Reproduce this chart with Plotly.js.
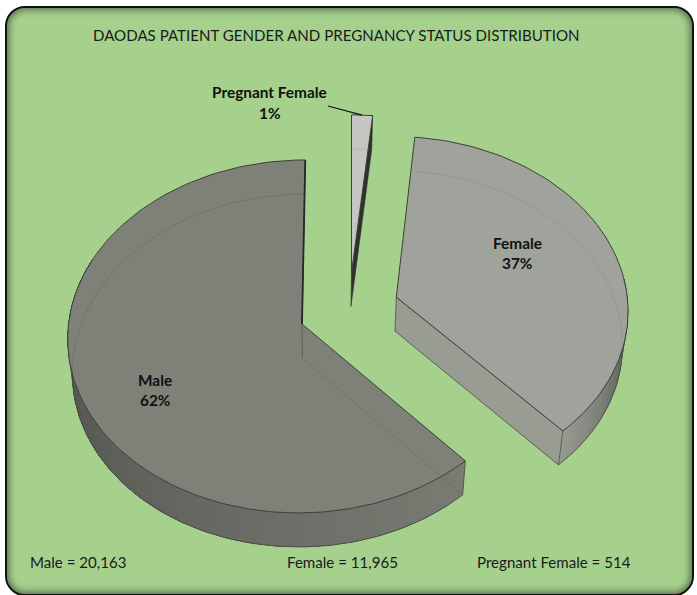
<!DOCTYPE html>
<html><head><meta charset="utf-8">
<script src="https://cdn.plot.ly/plotly-3.0.1.min.js"></script>
<style>
html,body{margin:0;padding:0;background:#fff;width:697px;height:595px;overflow:hidden}
#frame{position:absolute;left:5px;top:6px;width:689px;height:590px;box-sizing:border-box;border:2px solid #111;border-radius:20px;background:#a6d18d;box-shadow:inset 0 0 7px 2px rgba(30,40,25,.6)}
#chart{position:absolute;left:0;top:0;width:697px;height:595px}
</style></head><body>
<div id="frame"></div><div id="chart"></div>
<script>
// Data
const categories = ['Pregnant Female','Female','Male'];
const counts = [514, 11965, 20163];
const percentLabels = ['1%','37%','62%'];
const countLabels = ['Male = 20,163','Female = 11,965','Pregnant Female = 514'];
const chartTitle = 'DAODAS PATIENT GENDER AND PREGNANCY STATUS DISTRIBUTION';

// View of the tilted pie (pixel axes below)
const VIEW = {cx:302, cy:324, R:233.5, A:175.6, k:0.0705, S:3.5, depth:34, shrink:0.018, vx:320};
const total = counts.reduce((a,b)=>a+b,0);
const rad = d => d*Math.PI/180;
function proj(u,v,z){
  const s = 1/(1+VIEW.k*v);
  let x = VIEW.cx+(VIEW.R*u+VIEW.S*v)*s, y = VIEW.cy-VIEW.A*v*s;
  if(z){ x -= (x-VIEW.vx)*VIEW.shrink; y += VIEW.depth; }
  return [x,y];
}
function arcPts(a0,a1,pull,z){
  const n = Math.max(2,Math.ceil(Math.abs(a1-a0)/1.5)), pts=[];
  for(let i=0;i<=n;i++){
    const a = rad(a0+(a1-a0)*i/n);
    pts.push(proj(pull[0]+Math.sin(a),pull[1]+Math.cos(a),z));
  }
  return pts;
}
const mix=(c1,c2,t)=>'rgb('+c1.map((c,i)=>Math.round(c+(c2[i]-c)*t)).join(',')+')';
const traces=[];
function poly(pts,fill,line,w,name){
  traces.push({x:pts.map(p=>p[0]),y:pts.map(p=>p[1]),type:'scatter',mode:'lines',
    fill:fill?'toself':'none',fillcolor:fill||undefined,
    line:{color:line||fill,width:w===undefined?1:w},hoverinfo:'skip',name:name||'',showlegend:false});
}
function outerSide(a0,a1,pull,c0,c1,steps,name){
  // each band runs to the far end and the next one paints over it, so no seams show
  for(let i=0;i<steps;i++){
    const p=a0+(a1-a0)*i/steps;
    const top=arcPts(p,a1,pull,0),bot=arcPts(p,a1,pull,1).reverse();
    poly(top.concat(bot),mix(c0,c1,i/(steps-1)),'rgba(0,0,0,0)',0,name);
  }
  poly(arcPts(a0,a1,pull,1),null,'#4a4c47',0.8,name);
}
function topFace(a0,a1,pull,fill,name){
  const apex=proj(pull[0],pull[1],0);
  poly([apex].concat(arcPts(a0,a1,pull,0),[apex]),fill,'#3d3f3a',1,name);
}
function ghostArc(a0,a1,pull,color){ poly(arcPts(a0,a1,pull,1),null,color,0.8); }
// clockwise from 12 o'clock, in the data's order
let acc=0; const span={};
categories.forEach((c,i)=>{const d=counts[i]/total*360;span[c]=[acc,acc+d];acc+=d;});
const pulls={'Pregnant Female':[0.212,0.3],'Female':[0.406,0.155],'Male':[0,0]};

// Male
{const [a0,a1]=span['Male'],p=pulls['Male'];
 const side=Math.min(a1,292);
 outerSide(a0,side,p,[122,124,116],[74,77,71],60,'Male');
 const e0=proj(Math.sin(rad(a0)),Math.cos(rad(a0)),0),e1=proj(Math.sin(rad(a0)),Math.cos(rad(a0)),1);
 poly([e0,e1],null,'#55574f',1);
 topFace(a0,a1,p,'#7f8179','Male');
 ghostArc(a0,a1,p,'rgba(60,62,57,0.25)');
 const ap=proj(p[0],p[1],0),apB=proj(p[0],p[1],1);
 poly([apB,e1],null,'rgba(60,62,57,0.25)',0.8);
 const far=proj(p[0]+Math.sin(rad(a1)),p[1]+Math.cos(rad(a1)),0);
 poly([far,ap],null,'#26282a',1.8);
 poly([ap,apB],null,'rgba(40,42,38,0.4)',1);
}
// Female
{const [a0,a1]=span['Female'],p=pulls['Female'];
 outerSide(a1,84,p,[150,153,144],[66,69,63],36,'Female');
 const ap=proj(p[0],p[1],0),apB=proj(p[0],p[1],1);
 const px=p[0]+Math.sin(rad(a1)),py=p[1]+Math.cos(rad(a1));
 const e=proj(px,py,0),eB=proj(px,py,1);
 poly([ap,e,eB,apB,ap],'#989c92','#4a4c47',0.8,'Female');
 topFace(a0,a1,p,'#9fa39b','Female');
 ghostArc(a0,a1,p,'rgba(90,92,86,0.2)');
}
// Pregnant Female
{const [a0,a1]=span['Pregnant Female'],p=pulls['Pregnant Female'];
 const ap=proj(p[0],p[1],0),apB=proj(p[0],p[1],1);
 const px=p[0]+Math.sin(rad(a1)),py=p[1]+Math.cos(rad(a1));
 const e=proj(px,py,0),eB=proj(px,py,1);
 poly([ap,e,eB,apB,ap],'#2f312d','#2f312d',0.6,'Pregnant Female');
 topFace(a0,a1,p,'#c4c7c1','Pregnant Female');
 ghostArc(a0,a1,p,'rgba(110,112,105,0.25)');
 // leader line
 const far=arcPts(a0,a1,p,0);
 poly([[328,106],[346,111],far[Math.floor(far.length/2)]],null,'#111',1.2);
}

const FONT='Lato, Carlito, "Open Sans", sans-serif';
function ann(x,y,text,opts){return Object.assign({x,y,xref:'x',yref:'y',text,showarrow:false,xanchor:'center',yanchor:'middle',
  font:{family:FONT,size:15.1,color:'#1a1a1a'}},opts||{});}
const boldFont={font:{family:FONT,size:15.4,color:'#111'}};
const bold=(x,y,t)=>ann(x,y,'<b>'+t+'</b>',boldFont);
const annotations=[
  ann(336.5,35,chartTitle),
  bold(269.5,92,categories[0]), bold(269.5,113,percentLabels[0]),
  bold(517,243,categories[1]), bold(517,263,percentLabels[1]),
  bold(155,380,categories[2]), bold(155,400,percentLabels[2]),
  ann(78.5,562,countLabels[0]),
  ann(342,562,countLabels[1]),
  ann(553.5,562,countLabels[2])
];
const hiddenAxis=r=>({range:r,visible:false,fixedrange:true,showgrid:false,zeroline:false});
Plotly.newPlot('chart',traces,{
  width:697,height:595,margin:{l:0,r:0,t:0,b:0},
  paper_bgcolor:'rgba(0,0,0,0)',plot_bgcolor:'rgba(0,0,0,0)',
  xaxis:hiddenAxis([0,697]),yaxis:hiddenAxis([595,0]),
  showlegend:false,annotations:annotations
},{displayModeBar:false,staticPlot:true});
</script></body></html>
